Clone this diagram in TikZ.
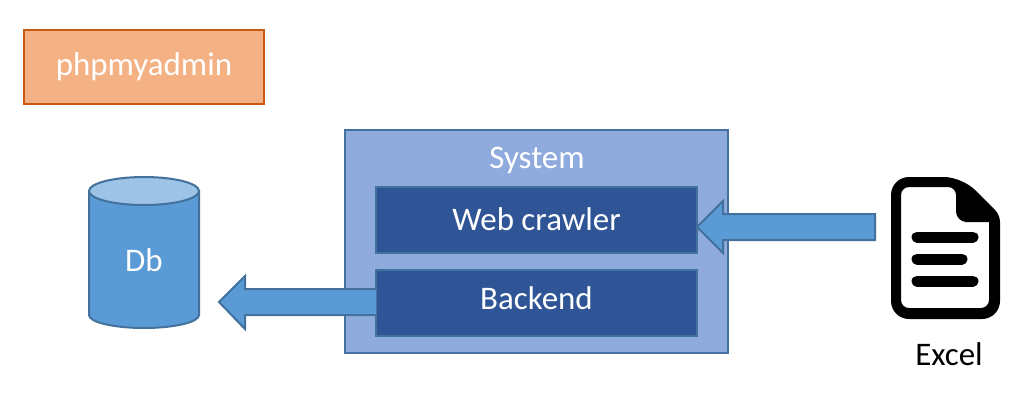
\documentclass[tikz,border=0pt]{standalone}
\usepackage{fontspec}
\setmainfont{Carlito}
\usetikzlibrary{calc}
\definecolor{orangefill}{HTML}{F4B183}
\definecolor{orangeline}{HTML}{C55A11}
\definecolor{sysfill}{HTML}{8FAADC}
\definecolor{bluedark}{HTML}{2F5597}
\definecolor{blueline}{HTML}{41719C}
\definecolor{bluemid}{HTML}{5B9BD5}
\definecolor{bluelight}{HTML}{9DC3E6}
\tikzset{
  x=0.75pt,y=-0.75pt,
  shapeline/.style={line width=1.5pt,line join=miter},
  labeltext/.style={text=white,font=\fontsize{24.7}{28}\selectfont,inner sep=0pt},
  orangebox/.style={shapeline,draw=orangeline,fill=orangefill,minimum width=180pt,minimum height=55.5pt,outer sep=0pt},
  systembox/.style={shapeline,draw=blueline,fill=sysfill,minimum width=287.25pt,minimum height=167.25pt,outer sep=0pt},
  innerbox/.style={shapeline,draw=blueline,fill=bluedark,minimum width=240.75pt,minimum height=49.5pt,outer sep=0pt},
  blockarrow/.style={shapeline,draw=blueline,fill=bluemid},
  cylbody/.style={shapeline,draw=blueline,fill=bluemid},
  cyltop/.style={shapeline,draw=blueline,fill=bluelight},
  docline/.style={line width=8.25pt,line cap=round},
}
\begin{document}
\begin{tikzpicture}
\useasboundingbox (0,0) rectangle (1032,419);
\node[orangebox,labeltext] (admin) at (144,67) {\raisebox{-2pt}{phpmyadmin}};
% system
\node[systembox] (system) at (536.5,241.5) {};
\node[labeltext] (systitle) at (537,160) {System};
\node[innerbox,labeltext] (crawler) at (536.5,219.5) {\raisebox{-2.2pt}{Web crawler}};
\node[innerbox,labeltext] (backend) at (536.5,302.5) {\raisebox{6.8pt}{Backend}};
% database
\draw[cylbody] (89,191) -- (89,315) arc[start angle=180,end angle=0,x radius=55,y radius=13] -- (199,191) -- cycle;
\draw[cyltop] (144,191) ellipse[x radius=55,y radius=14];
\node[labeltext] (db) at (144,260) {Db};
% document icon
\path[fill=black,even odd rule]
  [rounded corners=13.5pt] (891,250) -- (891,177) -- (962,177)
  [rounded corners=5pt] -- (1000,215) -- (1000,250)
  [rounded corners=13.5pt] -- (1000,319) -- (891,319) -- cycle
  [sharp corners] (901,250)
  [rounded corners=6pt] -- (901,187) -- (956,187)
  [sharp corners] -- (956,200)
  [rounded corners=8pt] -- (956,222) -- (975,222)
  [sharp corners] -- (989,222) -- (989,250)
  [rounded corners=6pt] -- (989,308) -- (901,308) -- cycle;
\draw[docline] (917,237) -- (973,237);
\draw[docline] (917,259) -- (962,259);
\draw[docline] (917,281) -- (973,281);
\node[font=\fontsize{24.7}{28}\selectfont,inner sep=0pt] (excel) at (949,354) {Excel};
% block arrows
\draw[blockarrow] ($(crawler.east)+(0,7.5)$) -- ++(26,-26) -- ++(0,13) -- (875,214) -- (875,240) -- (723,240) -- (723,253) -- cycle;
\draw[blockarrow] ($(backend.west)+(0,-13.5)$) -- (245,289) -- (245,276) -- (219,302) -- (245,329) -- (245,315) -- ($(backend.west)+(0,12.5)$);
\end{tikzpicture}
\end{document}
